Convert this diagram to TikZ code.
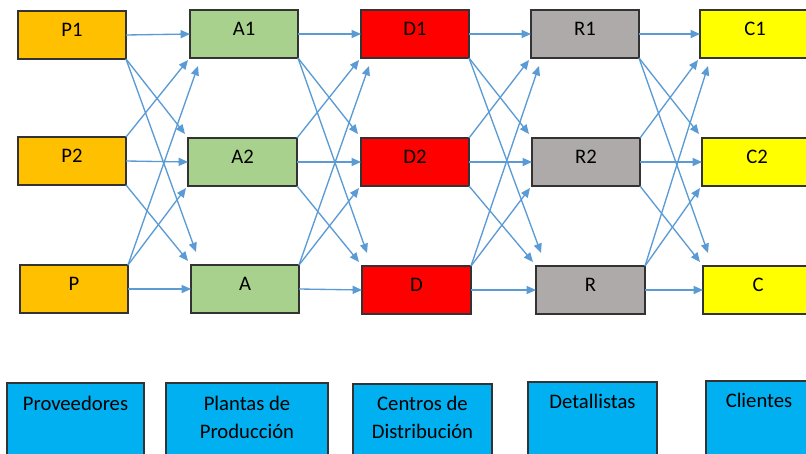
\documentclass[tikz,border=0pt]{standalone}
\usepackage{fontspec}
\setmainfont{Carlito}
\usetikzlibrary{arrows.meta}
\definecolor{cP}{HTML}{FFC000}
\definecolor{cA}{HTML}{A9D18E}
\definecolor{cD}{HTML}{FF0000}
\definecolor{cR}{HTML}{AEAAAA}
\definecolor{cC}{HTML}{FFFF00}
\definecolor{cB}{HTML}{00B0F0}
\definecolor{cArr}{HTML}{5B9BD5}
\definecolor{cEdge}{HTML}{333333}
\newcommand\mybox[7]{\node[box,fill=#6,minimum width={(#4-#2)*0.75pt},minimum height={(#5-#3)*0.75pt}] (#1) at ({(#2+#4)/2},{(#3+#5)/2}) {#7};}
\newcommand\myconn[6]{%
 \draw[arr] (#1.east) -- (#4.west);
 \draw[arr] (#2.east) -- (#5.west);
 \draw[arr] (#3.east) -- (#6.west);
 \draw[arr] (#1.south east) -- ([shift={(-3,-4)}]#5.north west);
 \draw[arr] (#2.south east) -- ([shift={(-3,-4)}]#6.north west);
 \draw[arr] (#1.south east) -- ([shift={(5,-13)}]#6.north west);
 \draw[arr] (#2.north east) -- ([shift={(-2,2)}]#4.south west);
 \draw[arr] (#3.north east) -- ([shift={(-2,2)}]#5.south west);
 \draw[arr] (#3.north east) -- ([shift={(8,8)}]#4.south west);
}
\begin{document}
\begin{tikzpicture}[x=0.75pt,y=-0.75pt,
  box/.style={draw=cEdge,line width=1.1pt,rectangle,inner sep=0pt,outer sep=0pt,
    text height=5pt,text depth=2.5pt,font=\fontsize{15.5}{18}\selectfont},
  lbl/.style={inner sep=0pt,outer sep=0pt,font=\fontsize{15.5}{21}\selectfont,align=center},
  arr/.style={draw=cArr,line width=1pt,-{Triangle[length=7pt,width=6pt]}}]
\clip (0,0) rectangle (806,453);
\fill[white] (0,0) rectangle (806,453);
% top rows
\mybox{P1}{18}{11}{126}{59}{cP}{P1}
\mybox{P2}{18}{137}{126}{185}{cP}{P2}
\mybox{P}{20}{265}{128}{313}{cP}{P}
\mybox{A1}{190}{10}{298}{58}{cA}{A1}
\mybox{A2}{188}{138}{297}{186}{cA}{A2}
\mybox{A}{191}{265}{299}{313}{cA}{A}
\mybox{D1}{361}{10}{469}{58}{cD}{D1}
\mybox{D2}{361}{138}{469}{186}{cD}{D2}
\mybox{D}{362}{266}{471}{314}{cD}{D}
\mybox{R1}{531}{10}{639}{58}{cR}{R1}
\mybox{R2}{532}{138}{640}{186}{cR}{R2}
\mybox{R}{536}{266}{645}{314}{cR}{R}
\mybox{C1}{700}{10}{810}{58}{cC}{C1}
\mybox{C2}{702}{138}{812}{186}{cC}{C2}
\mybox{C}{703}{266}{813}{314}{cC}{C}
% connectors
\myconn{P1}{P2}{P}{A1}{A2}{A}
\myconn{A1}{A2}{A}{D1}{D2}{D}
\myconn{D1}{D2}{D}{R1}{R2}{R}
\myconn{R1}{R2}{R}{C1}{C2}{C}
% legend boxes
\mybox{Bprov}{7}{383}{144}{470}{cB}{}
\mybox{Bplan}{166}{383}{328}{470}{cB}{}
\mybox{Bcent}{353}{384}{492}{470}{cB}{}
\mybox{Bdet}{528}{382}{657}{470}{cB}{}
\mybox{Bcli}{706}{381}{812}{470}{cB}{}
\node[lbl,anchor=base] (tprov) at (75.5,410) {Proveedores};
\node[lbl,anchor=base] (tplan) at (247,438) {Plantas de\\Producción};
\node[lbl,anchor=base] (tcent) at (422.5,438) {Centros de\\Distribución};
\node[lbl,anchor=base] (tdet) at (592.5,408) {Detallistas};
\node[lbl,anchor=base] (tcli) at (759,407) {Clientes};
\end{tikzpicture}
\end{document}
